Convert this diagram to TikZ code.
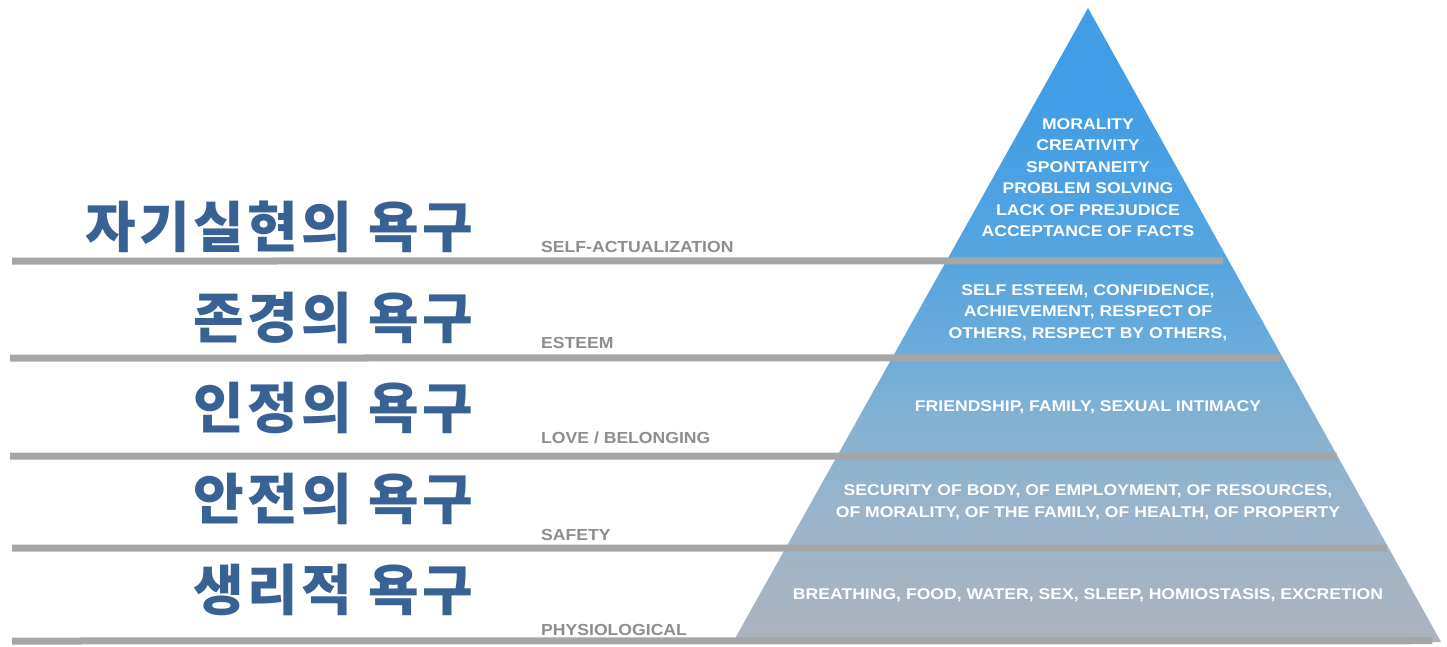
\documentclass[tikz,border=0pt]{standalone}
\usepackage{fontspec}
\usetikzlibrary{calc}
\newfontfamily\krfont[LetterSpace=6.5]{Noto Sans CJK KR}
\newfontfamily\labfont[FakeStretch=1.1]{Liberation Sans}
\newfontfamily\tierfont[FakeStretch=1.135]{Liberation Sans}

\definecolor{korblue}{HTML}{386294}
\definecolor{bargray}{HTML}{A6A6A6}
\definecolor{labgray}{HTML}{8E8E8E}
% pyramid colours, from the base upwards
\definecolor{pyrA}{HTML}{ACB4BE}
\definecolor{pyrB}{HTML}{AAB3BF}
\definecolor{pyrC}{HTML}{9CB5CA}
\definecolor{pyrD}{HTML}{88B3D1}
\definecolor{pyrE}{HTML}{6AABDB}
\definecolor{pyrF}{HTML}{56A5E0}
\definecolor{pyrG}{HTML}{419EE6}

\pgfdeclareverticalshading{pyramidshade}{100bp}{%
  color(0bp)=(pyrA); color(25bp)=(pyrA); color(26.6bp)=(pyrB);
  color(33.7bp)=(pyrC); color(41.2bp)=(pyrD); color(48.4bp)=(pyrE);
  color(55bp)=(pyrF); color(67.7bp)=(pyrG); color(75bp)=(pyrG);
  color(100bp)=(pyrG)}

\tikzset{
  korlab/.style={anchor=east, inner sep=0pt, text=korblue,
    font=\krfont\fontsize{55}{60}\selectfont\bfseries},
  englab/.style={anchor=base west, inner sep=0pt, text=labgray,
    font=\labfont\fontsize{16}{18}\selectfont\bfseries},
  tiertext/.style={align=center, inner sep=0pt, text=white,
    font=\tierfont\fontsize{15.5}{21.5}\selectfont\bfseries},
  bar/.style={draw=bargray, line width=7pt},
}

\begin{document}
\begin{tikzpicture}[x=1pt, y=-1pt]
  \useasboundingbox (0,0) rectangle (1447,646);
  \fill[white] (0,0) rectangle (1447,646);

  % pyramid outline
  \coordinate (apex) at (1088,8);
  \coordinate (bl) at (733,642);
  \coordinate (br) at (1441,642);
  \shade[shading=pyramidshade] (apex) -- (bl) -- (br) -- cycle;

  % level separators, from the left margin to the pyramid's right side
  \coordinate (s1) at (12,261);
  \coordinate (s2) at (10,358);
  \coordinate (s3) at (10,456);
  \coordinate (s4) at (12,548);
  \coordinate (s5) at (12,641);
  \draw[bar] (s1) -- ($(apex)!0.399!(br)+(-6,0)$);
  \draw[bar] (s2) -- ($(apex)!0.552!(br)+(-2,0)$);
  \draw[bar] (s3) -- ($(apex)!0.707!(br)+(-1,0)$);
  \draw[bar] (s4) -- ($(apex)!0.852!(br)+(-2,0)$);
  \draw[bar] (s5) -- ($(apex)!0.998!(br)+(-8,0)$);

  % Korean level names (the trailing letter space is cancelled by the kern)
  \node[korlab] (k1) at (470,227) {자기실현의 욕구\kern-3.5pt};
  \node[korlab] (k2) at (470,318) {존경의 욕구\kern-3.5pt};
  \node[korlab] (k3) at (470,408) {인정의 욕구\kern-3.5pt};
  \node[korlab] (k4) at (470,499) {안전의 욕구\kern-3.5pt};
  \node[korlab] (k5) at (470,590) {생리적 욕구\kern-3.5pt};

  % English level names
  \node[englab] (e1) at (541,252) {SELF-ACTUALIZATION};
  \node[englab] (e2) at (541,348) {ESTEEM};
  \node[englab] (e3) at (541,443) {LOVE / BELONGING};
  \node[englab] (e4) at (541,540) {SAFETY};
  \node[englab] (e5) at (541,635) {PHYSIOLOGICAL};

  % contents of each level
  \node[tiertext] (t1) at (1088,177.5)
    {MORALITY\\CREATIVITY\\SPONTANEITY\\PROBLEM SOLVING\\LACK OF PREJUDICE\\ACCEPTANCE OF FACTS};
  \node[tiertext] (t2) at (1088,312.5)
    {SELF ESTEEM, CONFIDENCE,\\ACHIEVEMENT, RESPECT OF\\OTHERS, RESPECT BY OTHERS,};
  \node[tiertext] (t3) at (1088,407)
    {FRIENDSHIP, FAMILY, SEXUAL INTIMACY};
  \node[tiertext] (t4) at (1088,502.5)
    {SECURITY OF BODY, OF EMPLOYMENT, OF RESOURCES,\\OF MORALITY, OF THE FAMILY, OF HEALTH, OF PROPERTY};
  \node[tiertext] (t5) at (1088,595.5)
    {BREATHING, FOOD, WATER, SEX, SLEEP, HOMIOSTASIS, EXCRETION};
\end{tikzpicture}
\end{document}
